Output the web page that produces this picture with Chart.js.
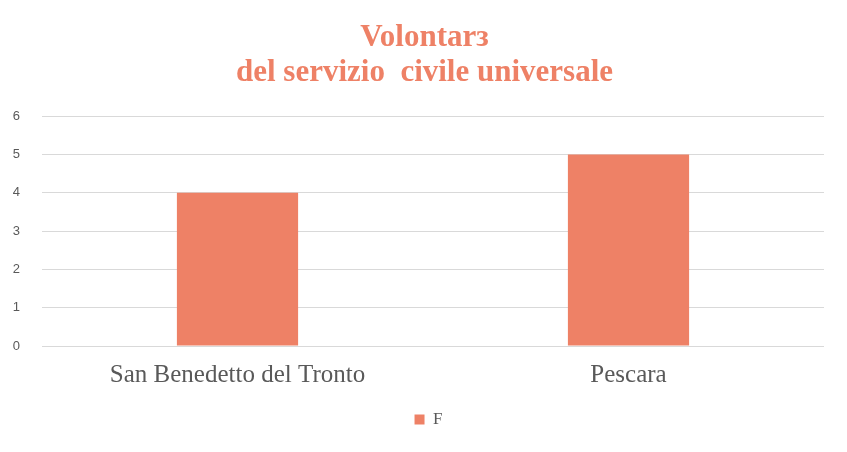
<!DOCTYPE html>
<html>
<head>
<meta charset="utf-8">
<script src="https://cdn.jsdelivr.net/npm/chart.js@4"></script>
<style>
html,body{margin:0;padding:0;background:#fff;}
#wrap{width:847px;height:452px;}
</style>
</head>
<body>
<div id="wrap"><canvas id="c" width="847" height="452"></canvas></div>
<script>
const categories = ["San Benedetto del Tronto", "Pescara"];
const seriesName = "F";
const seriesValues = [4, 5];
const yTicks = [0, 1, 2, 3, 4, 5, 6];
const titleLines = ["Volontarз", "del servizio  civile universale"];

const barColor = "#EE8166";
const textGray = "#595959";

const blockShift = {
  id: "blockShift",
  afterLayout(chart) {
    if (chart.legend) {
      chart.legend.left += 33;
    }
    if (chart.titleBlock) {
      chart.titleBlock.left += 25;
    }
  }
};

new Chart(document.getElementById("c"), {
  type: "bar",
  data: {
    labels: categories,
    datasets: [{
      label: seriesName,
      data: seriesValues,
      backgroundColor: barColor,
      borderWidth: 0,
      barPercentage: 0.62,
      categoryPercentage: 0.5
    }]
  },
  plugins: [blockShift],
  options: {
    responsive: false,
    animation: false,
    devicePixelRatio: 1,
    layout: { padding: { left: 0, right: 23, top: 20, bottom: 14 } },
    plugins: {
      title: {
        display: true,
        text: titleLines,
        color: barColor,
        font: { family: "'Liberation Serif', serif", size: 31, weight: "bold", lineHeight: 1.13 },
        padding: { top: 0, bottom: 26 }
      },
      legend: {
        display: true,
        position: "bottom",
        labels: {
          boxWidth: 10,
          boxHeight: 10,
          color: textGray,
          font: { family: "'Liberation Serif', serif", size: 17 },
          padding: 7
        }
      },
      tooltip: { enabled: false }
    },
    scales: {
      x: {
        grid: { display: false, drawTicks: false },
        border: { display: false },
        ticks: {
          color: textGray,
          font: { family: "'Liberation Serif', serif", size: 25 },
          padding: 14
        }
      },
      y: {
        min: yTicks[0],
        max: yTicks[yTicks.length - 1],
        afterFit: (s) => { s.width = 42; },
        grid: { color: "#D9D9D9", lineWidth: 1, drawTicks: false },
        border: { display: false },
        ticks: {
          stepSize: 1,
          color: textGray,
          font: { family: "'Liberation Sans', sans-serif", size: 13 },
          padding: 22
        }
      }
    }
  }
});
</script>
</body>
</html>
